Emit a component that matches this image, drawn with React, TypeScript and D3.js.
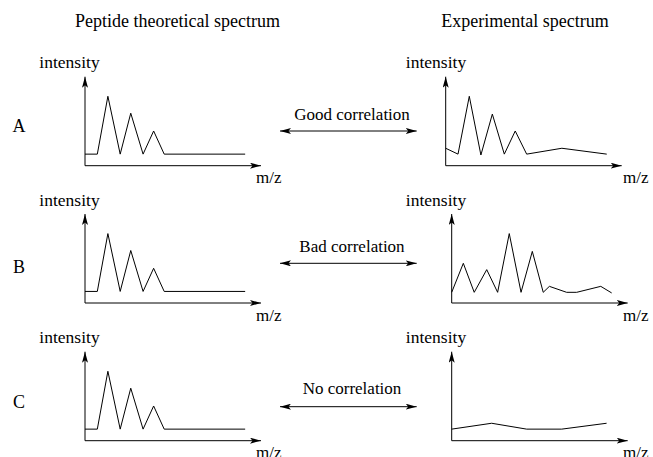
import React from "react";
import * as d3 from "d3";

// theoretical spectrum, same in every row
const mzTheory = [0, 7, 13, 20, 26, 33, 39, 45, 91];
const intTheory = [13, 13, 78, 13, 59, 13, 39, 13, 13];

// experimental spectra
const mzExpA = [0, 7, 13.4, 20, 26.5, 33.3, 39.5, 46, 66, 91.5];
const intExpA = [19.6, 13, 78, 12, 58, 13, 39, 13, 19.6, 13];

const mzExpB = [0, 6.6, 12.8, 19.9, 26.1, 32.7, 39.4, 45.8, 52, 55.5, 65.3, 71, 84.7, 90.9];
const intExpB = [12, 44.6, 12, 37.5, 12, 78, 12, 58, 12, 18.7, 12, 12, 18.7, 11.3];

const mzExpC = [0, 22.7, 42.6, 62.5, 88];
const intExpC = [13, 19.6, 13, 13, 19.6];

const rowLetters = ["A", "B", "C"];
const correlationLabels = ["Good correlation", "Bad correlation", "No correlation"];
const columnTitles = ["Peptide theoretical spectrum", "Experimental spectrum"];
const yLabel = "intensity";
const xLabel = "m/z";

const experimental = [
  { mz: mzExpA, int: intExpA },
  { mz: mzExpB, int: intExpB },
  { mz: mzExpC, int: intExpC },
];

const W = 653;
const H = 457;
const font = "'Liberation Serif', 'Times New Roman', serif";

const axisLen = 176;
const axisHeight = 89;
const rowOriginY = [165.7, 303, 440.7];
const leftOriginX = 85;
const rightOriginX = [445.7, 451.7, 451.7];
const arrowY = [131, 263.3, 406.7];
const corrTextY = [120, 251.7, 394.3];
const letterY = [132, 273, 408];

const x = d3.scaleLinear().domain([0, 100]).range([0, axisLen]);
const y = d3.scaleLinear().domain([0, 100]).range([0, -axisHeight]);

const line = d3
  .line<[number, number]>()
  .x((d) => x(d[0]))
  .y((d) => y(d[1]));

function Panel({ ox, oy, mz, inten }: { ox: number; oy: number; mz: number[]; inten: number[] }) {
  const pts = mz.map((m, i) => [m, inten[i]] as [number, number]);
  return (
    <g transform={`translate(${ox},${oy})`}>
      <line x1={0} y1={0} x2={0} y2={y(100)} stroke="#000" strokeWidth={1} markerEnd="url(#arr)" />
      <line x1={0} y1={0} x2={x(100)} y2={0} stroke="#000" strokeWidth={1} markerEnd="url(#arr)" />
      <path d={line(pts) || ""} fill="none" stroke="#000" strokeWidth={1} strokeLinejoin="miter" />
    </g>
  );
}

export default function App() {
  return (
    <svg
      width={W}
      height={H}
      style={{ position: "absolute", left: 0, top: 0, background: "#fff" }}
      fontFamily={font}
    >
      <defs>
        <marker
          id="arr"
          viewBox="0 0 11 6"
          refX={11}
          refY={3}
          markerWidth={11}
          markerHeight={6}
          markerUnits="userSpaceOnUse"
          orient="auto-start-reverse"
        >
          <path d="M0,0 L11,3 L0,6 L2.5,3 Z" fill="#000" />
        </marker>
      </defs>

      <text x={177.5} y={27} textAnchor="middle" fontSize={18}>
        {columnTitles[0]}
      </text>
      <text x={525} y={27} textAnchor="middle" fontSize={18}>
        {columnTitles[1]}
      </text>

      {rowLetters.map((letter, r) => {
        const oy = rowOriginY[r];
        const exp = experimental[r];
        return (
          <g key={letter}>
            <text x={19} y={letterY[r]} textAnchor="middle" fontSize={18}>
              {letter}
            </text>
            <text x={69.5} y={oy - 97.5} textAnchor="middle" fontSize={17.5}>
              {yLabel}
            </text>
            <text x={436} y={oy - 97.5} textAnchor="middle" fontSize={17.5}>
              {yLabel}
            </text>
            <text x={256} y={oy + 17.5} fontSize={17}>
              {xLabel}
            </text>
            <text x={623} y={oy + 17.5} fontSize={17}>
              {xLabel}
            </text>
            <Panel ox={leftOriginX} oy={oy} mz={mzTheory} inten={intTheory} />
            <Panel ox={rightOriginX[r]} oy={oy} mz={exp.mz} inten={exp.int} />
            <text x={352} y={corrTextY[r]} textAnchor="middle" fontSize={17}>
              {correlationLabels[r]}
            </text>
            <line
              x1={280}
              x2={416.7}
              y1={arrowY[r]}
              y2={arrowY[r]}
              stroke="#000"
              strokeWidth={1}
              markerStart="url(#arr)"
              markerEnd="url(#arr)"
            />
          </g>
        );
      })}
    </svg>
  );
}
